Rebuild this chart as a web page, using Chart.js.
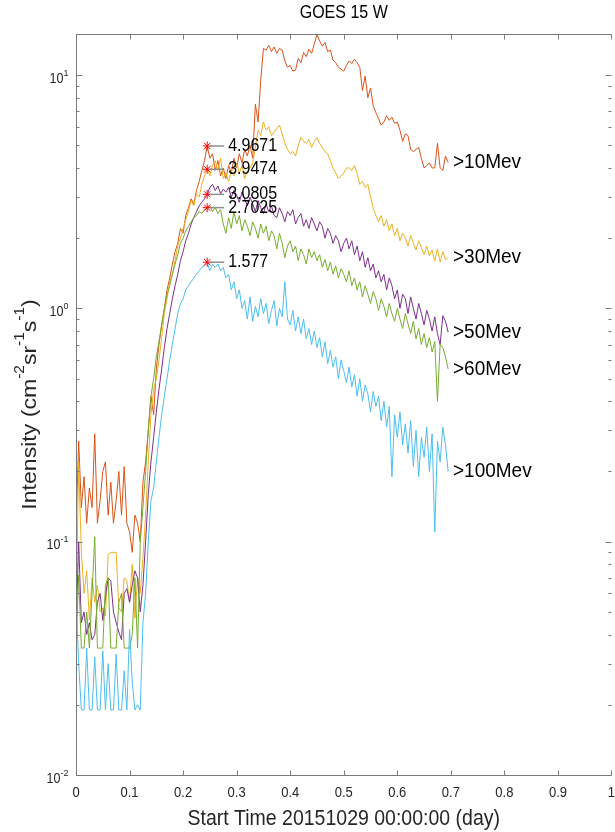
<!DOCTYPE html>
<html>
<head>
<meta charset="utf-8">
<script src="https://cdn.jsdelivr.net/npm/chart.js@4.4.0/dist/chart.umd.min.js"></script>
<style>
  html, body { margin: 0; padding: 0; background: #fff; overflow: hidden; width: 615px; height: 832px; }
  canvas { display: block; }
</style>
</head>
<body>
<canvas id="c" width="615" height="832"></canvas>
<script>
// Sample times (day since 2015-10-29 00:00:00)
const times = [
  0.000,0.005,0.010,0.015,0.020,0.025,0.030,0.035,0.040,0.045,
  0.050,0.055,0.060,0.065,0.070,0.075,0.080,0.085,0.090,0.095,
  0.100,0.105,0.110,0.115,0.120,0.125,0.130,0.135,0.140,0.145,
  0.150,0.155,0.160,0.165,0.170,0.175,0.180,0.185,0.190,0.195,
  0.200,0.205,0.210,0.215,0.220,0.225,0.230,0.235,0.240,0.245,
  0.250,0.255,0.260,0.265,0.270,0.275,0.280,0.285,0.290,0.295,
  0.300,0.305,0.310,0.315,0.320,0.325,0.330,0.335,0.340,0.345,
  0.350,0.355,0.360,0.365,0.370,0.375,0.380,0.385,0.390,0.395,
  0.400,0.405,0.410,0.415,0.420,0.425,0.430,0.435,0.440,0.445,
  0.450,0.455,0.460,0.465,0.470,0.475,0.480,0.485,0.490,0.495,
  0.500,0.505,0.510,0.515,0.520,0.525,0.530,0.535,0.540,0.545,
  0.550,0.555,0.560,0.565,0.570,0.575,0.580,0.585,0.590,0.595,
  0.600,0.605,0.610,0.615,0.620,0.625,0.630,0.635,0.640,0.645,
  0.650,0.655,0.660,0.665,0.670,0.675,0.680,0.685,0.690,0.695
];

// Proton intensity, cm^-2 sr^-1 s^-1
const flux10 = [
  0.11,0.27,0.14,0.19,0.12,0.17,0.14,0.29,0.12,0.15,
  0.20,0.22,0.13,0.18,0.12,0.15,0.20,0.13,0.21,0.12,
  0.11,0.09,0.13,0.12,0.10,0.18,0.22,0.30,0.42,0.35,
  0.55,0.70,0.85,1.00,1.20,1.35,1.55,1.75,1.90,2.20,
  2.10,2.50,2.70,2.95,2.80,3.20,3.50,3.90,4.30,4.9671,
  4.40,4.60,3.90,4.30,3.70,4.00,3.60,4.10,3.80,4.40,
  4.00,4.60,4.20,4.80,4.50,5.00,4.40,7.50,6.30,9.50,
  13.0,12.8,13.4,12.6,13.2,12.4,13.0,12.8,11.5,10.8,
  11.0,10.4,10.5,11.8,11.3,12.5,12.0,12.9,12.4,13.6,
  14.9,14.0,13.3,13.8,12.6,12.8,11.6,11.3,10.8,10.6,
  10.4,11.0,11.5,11.2,11.7,11.3,10.8,8.6,9.9,8.0,
  8.8,7.4,6.9,6.5,6.1,6.3,6.7,6.4,6.6,6.2,
  6.3,5.8,5.2,5.6,5.5,4.8,4.7,4.8,4.9,4.4,
  4.0,4.1,4.2,4.0,4.0,5.1,4.0,3.9,4.5,4.22
];
const flux30 = [
  0.047,0.22,0.09,0.06,0.075,0.046,0.07,0.055,0.065,0.05,
  0.052,0.048,0.088,0.09,0.09,0.09,0.052,0.05,0.07,0.068,
  0.055,0.08,0.047,0.07,0.06,0.085,0.13,0.22,0.35,0.45,
  0.50,0.60,0.75,0.95,1.10,1.30,1.40,1.60,1.85,2.00,
  2.20,2.40,2.60,2.90,2.75,3.10,3.00,3.40,3.70,3.9474,
  3.70,4.10,4.30,3.90,4.40,3.60,3.80,3.50,3.90,3.70,
  4.20,3.80,4.10,3.60,3.90,4.00,4.20,4.90,5.80,5.50,
  6.30,5.80,6.00,5.50,5.70,5.90,6.10,5.60,5.10,4.80,
  4.60,4.70,4.50,5.00,5.40,5.20,5.10,5.30,4.90,5.20,
  5.40,5.10,4.90,4.70,4.60,4.30,4.00,3.80,3.60,3.70,
  3.80,4.00,4.00,3.90,4.10,3.80,3.40,3.50,3.30,3.40,
  3.00,2.70,2.50,2.35,2.50,2.25,2.40,2.15,2.30,2.05,
  2.20,1.95,2.10,2.00,1.85,2.05,1.90,1.78,1.95,1.82,
  1.70,1.85,1.68,1.78,1.60,1.80,1.58,1.75,1.62,1.65
];
const flux50 = [
  0.042,0.10,0.045,0.05,0.04,0.045,0.038,0.04,0.055,0.06,
  0.046,0.058,0.07,0.068,0.05,0.045,0.041,0.038,0.06,0.063,
  0.055,0.065,0.075,0.07,0.05,0.065,0.10,0.16,0.22,0.28,
  0.36,0.45,0.55,0.68,0.82,0.95,1.10,1.25,1.40,1.60,
  1.75,1.95,2.10,2.30,2.45,2.60,2.75,2.85,2.95,3.0805,
  3.30,3.40,3.20,3.35,3.10,3.25,3.15,3.30,3.00,3.20,
  3.05,2.85,3.15,2.95,2.75,3.00,2.80,2.60,2.90,2.70,
  2.55,2.80,2.60,2.75,2.50,2.45,2.70,2.55,2.35,2.60,
  2.50,2.65,2.30,2.45,2.55,2.25,2.40,2.20,2.45,2.30,
  2.15,2.35,2.25,2.00,2.20,2.10,1.90,2.05,1.95,1.75,
  1.90,2.00,1.80,1.95,1.70,1.85,1.60,1.75,1.50,1.65,
  1.45,1.55,1.35,1.45,1.30,1.40,1.20,1.35,1.25,1.10,
  1.20,1.00,1.15,1.10,0.95,1.12,1.00,0.90,1.05,0.95,
  0.85,0.98,0.90,0.80,0.92,0.78,0.70,0.93,0.88,0.79
];
const flux60 = [
  0.035,0.072,0.035,0.035,0.05,0.035,0.06,0.105,0.035,0.035,
  0.035,0.065,0.07,0.035,0.035,0.035,0.055,0.06,0.035,0.035,
  0.035,0.04,0.07,0.035,0.10,0.14,0.20,0.30,0.42,0.50,
  0.62,0.72,0.85,1.00,1.15,1.25,1.40,1.55,1.70,1.90,
  2.00,2.15,2.25,2.35,2.45,2.50,2.60,2.55,2.65,2.7025,
  2.75,2.60,2.70,2.55,2.65,2.30,2.10,2.45,2.20,2.60,
  2.30,2.50,2.15,2.40,2.25,2.05,2.35,2.20,2.00,2.30,
  2.10,2.25,1.95,2.15,2.05,1.80,2.10,1.90,1.65,1.85,
  1.95,1.75,1.85,1.60,1.80,1.70,1.55,1.80,1.65,1.75,
  1.60,1.70,1.50,1.62,1.45,1.58,1.40,1.52,1.35,1.48,
  1.40,1.30,1.45,1.25,1.35,1.20,1.30,1.12,1.25,1.15,
  1.05,1.18,1.10,0.98,1.10,1.02,0.92,1.05,0.95,0.88,
  1.00,0.90,0.82,0.95,0.86,0.78,0.88,0.74,0.82,0.70,
  0.78,0.68,0.75,0.65,0.72,0.40,0.70,0.68,0.62,0.55
];
const flux100 = [
  0.058,0.030,0.019,0.019,0.035,0.019,0.019,0.032,0.019,0.019,
  0.034,0.019,0.030,0.019,0.019,0.033,0.019,0.019,0.028,0.019,
  0.042,0.025,0.019,0.020,0.019,0.045,0.060,0.10,0.15,0.17,
  0.22,0.28,0.35,0.42,0.50,0.60,0.70,0.82,0.95,1.05,
  1.10,1.20,1.25,1.30,1.35,1.40,1.45,1.50,1.52,1.577,
  1.45,1.55,1.50,1.55,1.45,1.50,1.35,1.40,1.20,1.30,
  1.10,1.20,1.00,1.08,0.90,1.12,0.88,1.02,0.92,1.10,
  0.95,1.05,0.86,0.98,1.08,0.84,1.00,0.92,1.30,0.90,
  0.85,0.98,0.80,0.92,0.78,0.90,0.74,0.82,0.70,0.80,
  0.68,0.75,0.62,0.72,0.58,0.66,0.56,0.62,0.50,0.60,
  0.54,0.48,0.56,0.46,0.52,0.42,0.50,0.40,0.47,0.43,
  0.36,0.44,0.38,0.42,0.33,0.40,0.31,0.38,0.19,0.35,
  0.28,0.36,0.26,0.32,0.24,0.33,0.21,0.30,0.19,0.28,
  0.23,0.31,0.20,0.29,0.11,0.27,0.22,0.31,0.26,0.20
];

const seriesNames = ['>10Mev', '>30Mev', '>50Mev', '>60Mev', '>100Mev'];
const seriesValues = [flux10, flux30, flux50, flux60, flux100];
const seriesColors = ['#D95319', '#EDB120', '#7E2F8E', '#77AC30', '#4DBEEE'];

// Marked maxima near the onset
const peakTime = 0.245;
const peakValues = [4.9671, 3.9474, 3.0805, 2.7025, 1.577];
const peakLabels = ['4.9671', '3.9474', '3.0805', '2.7025', '1.577'];

// End-of-curve label time
const labelTime = 0.704;

// Axis ticks; the axes box spans 0..1 day, the figure cuts it just short of 1
const xTicks = [0, 0.1, 0.2, 0.3, 0.4, 0.5, 0.6, 0.7, 0.8, 0.9, 1];
const xTickLabels = ['0', '0.1', '0.2', '0.3', '0.4', '0.5', '0.6', '0.7', '0.8', '0.9', '1'];
const xAxisEnd = 1;
const xVisibleMax = 0.9963;
const yDecades = [0.01, 0.1, 1, 10];
const yExponents = ['-2', '-1', '0', '1'];
const yMin = 0.01, yMax = 15;

const FONT = '"Liberation Sans", Arial, Helvetica, sans-serif';
const STRETCH = 1.1;

function partsWidth(ctx, parts, size, supSize) {
  let w = 0;
  for (const p of parts) {
    ctx.font = (p.sup ? supSize : size) + 'px ' + FONT;
    w += ctx.measureText(p.t).width;
  }
  return w;
}

// Text with optional superscripts; y is the middle of the base text
function drawRich(ctx, parts, x, y, size, supSize, align, color, rotate) {
  ctx.save();
  ctx.translate(x, y);
  if (rotate) { ctx.rotate(-Math.PI / 2); ctx.scale(STRETCH, 1); }
  else ctx.scale(1, STRETCH);
  const w = partsWidth(ctx, parts, size, supSize);
  let cx = align === 'center' ? -w / 2 : (align === 'right' ? -w : 0);
  ctx.fillStyle = color;
  ctx.textBaseline = 'middle';
  ctx.textAlign = 'left';
  for (const p of parts) {
    ctx.font = (p.sup ? supSize : size) + 'px ' + FONT;
    ctx.fillText(p.t, cx, p.sup ? -size * 0.45 : 0);
    cx += ctx.measureText(p.t).width;
  }
  ctx.restore();
}

const frame = {
  id: 'frame',
  afterDatasetsDraw(chart) {
    const ctx = chart.ctx;
    const xs = chart.scales.x, ys = chart.scales.y;
    // peak markers: connector + value
    peakValues.forEach((v, i) => {
      const px = xs.getPixelForValue(peakTime);
      const py = ys.getPixelForValue(v);
      ctx.save();
      ctx.strokeStyle = '#8f8f8f';
      ctx.lineWidth = 1.5;
      ctx.beginPath();
      ctx.moveTo(px + 3, py);
      ctx.lineTo(px + 17, py);
      ctx.stroke();
      ctx.restore();
      drawRich(ctx, [{ t: peakLabels[i] }], px + 21, py, 16, 11, 'left', '#000');
    });
    // series names at the curve ends
    seriesValues.forEach((vals, i) => {
      const px = xs.getPixelForValue(labelTime);
      const py = ys.getPixelForValue(vals[vals.length - 1]);
      drawRich(ctx, [{ t: seriesNames[i] }], px, py, 19, 13, 'left', '#000');
    });
  },
  afterDraw(chart) {
    const ctx = chart.ctx;
    const xs = chart.scales.x, ys = chart.scales.y;
    const { left, top, bottom } = chart.chartArea;
    const right = xs.getPixelForValue(xAxisEnd);
    const L = Math.round(left) + 0.5, R = Math.round(right) + 0.5;
    const T = Math.round(top) + 0.5, B = Math.round(bottom) + 0.5;
    ctx.save();
    ctx.strokeStyle = '#7a7a7a';
    ctx.lineWidth = 1;
    ctx.beginPath();
    ctx.moveTo(R, T); ctx.lineTo(L, T); ctx.lineTo(L, B); ctx.lineTo(R, B);
    // x ticks, bottom and top
    xTicks.forEach(v => {
      const px = Math.round(xs.getPixelForValue(v)) + 0.5;
      ctx.moveTo(px, B); ctx.lineTo(px, B - 5);
      ctx.moveTo(px, T); ctx.lineTo(px, T + 5);
    });
    // y ticks, major and minor, left and right
    yDecades.forEach(d => {
      const py = Math.round(ys.getPixelForValue(d)) + 0.5;
      ctx.moveTo(L, py); ctx.lineTo(L + 6, py);
      ctx.moveTo(R, py); ctx.lineTo(R - 6, py);
      for (let m = 2; m <= 9; m++) {
        const v = m * d;
        if (v > yMax) break;
        const q = Math.round(ys.getPixelForValue(v)) + 0.5;
        ctx.moveTo(L, q); ctx.lineTo(L + 3, q);
        ctx.moveTo(R, q); ctx.lineTo(R - 3, q);
      }
    });
    ctx.stroke();
    ctx.restore();

    xTicks.forEach((v, i) => {
      drawRich(ctx, [{ t: xTickLabels[i] }], xs.getPixelForValue(v), B + 18, 13, 9, 'center', '#262626');
    });
    yDecades.forEach((d, i) => {
      const py = ys.getPixelForValue(d);
      drawRich(ctx, [{ t: '10' }, { t: yExponents[i], sup: true }], L - 8, py + 4, 12.5, 9, 'right', '#262626');
    });

    const cx = (left + right) / 2;
    drawRich(ctx, [{ t: 'GOES 15 W' }], cx, 13, 16, 11, 'center', '#000');
    drawRich(ctx, [{ t: 'Start Time 20151029 00:00:00 (day)' }], cx, 819, 19.5, 13, 'center', '#262626');
    drawRich(ctx, [
      { t: 'Intensity (cm' }, { t: '-2', sup: true }, { t: 'sr' }, { t: '-1', sup: true },
      { t: 's' }, { t: '-1', sup: true }, { t: ')' }
    ], 30, (top + bottom) / 2, 21, 14, 'center', '#262626', true);
  }
};

const datasets = seriesValues.map((vals, i) => ({
  label: seriesNames[i],
  data: vals.map((v, k) => ({ x: times[k], y: v })),
  borderColor: seriesColors[i],
  borderWidth: 1,
  pointRadius: 0,
  tension: 0,
  fill: false,
  order: 10 - i
}));
datasets.push({
  type: 'scatter',
  label: 'peaks',
  data: peakValues.map(v => ({ x: peakTime, y: v })),
  pointStyle: 'star',
  pointRadius: 4.5,
  borderColor: '#ff0000',
  backgroundColor: '#ff0000',
  pointBorderWidth: 1,
  showLine: false,
  order: 0
});

new Chart(document.getElementById('c'), {
  type: 'line',
  data: { datasets },
  options: {
    responsive: false,
    animation: false,
    events: [],
    layout: { padding: { left: 0, right: 0, top: 34, bottom: 0 } },
    plugins: { legend: { display: false }, tooltip: { enabled: false }, title: { display: false } },
    scales: {
      x: {
        type: 'linear', min: 0, max: xVisibleMax,
        grid: { display: false }, border: { display: false }, ticks: { display: false },
        afterFit: s => { s.height = 57; }
      },
      y: {
        type: 'logarithmic', min: yMin, max: yMax,
        grid: { display: false }, border: { display: false }, ticks: { display: false },
        afterFit: s => { s.width = 76; }
      }
    }
  },
  plugins: [frame]
});
</script>
</body>
</html>
